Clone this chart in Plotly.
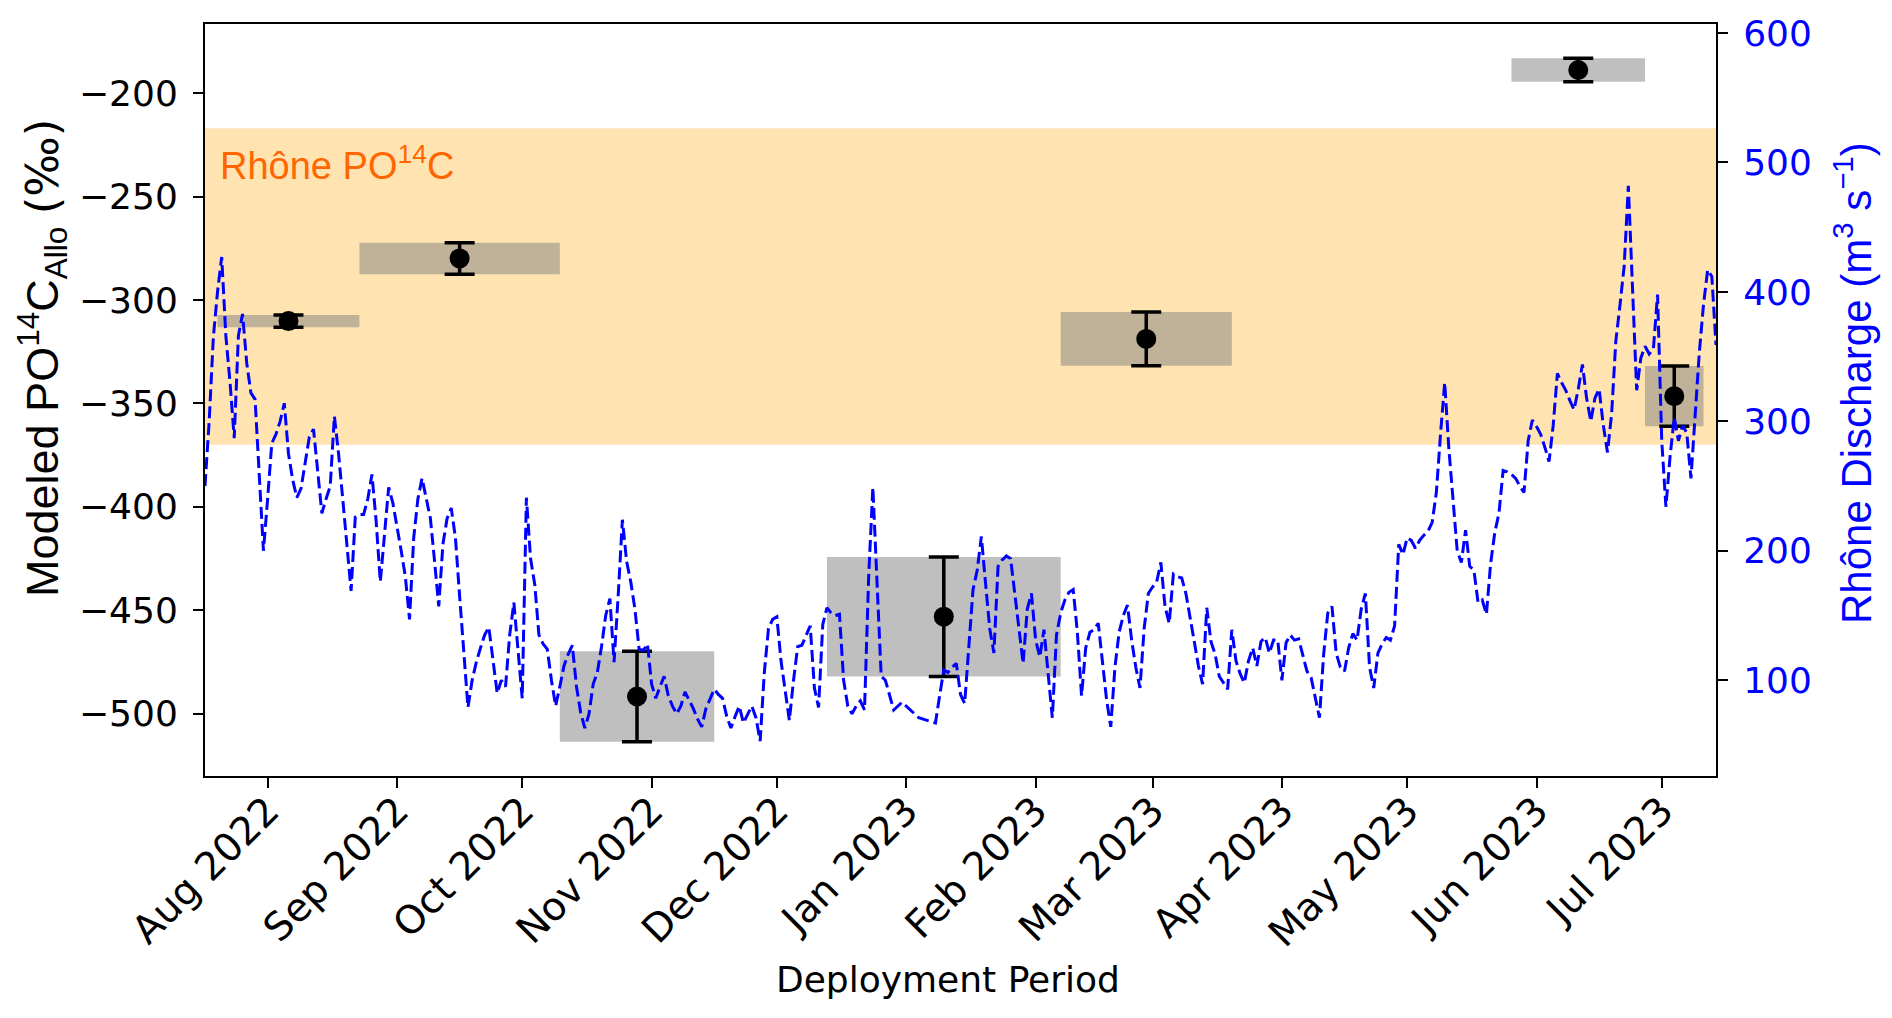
import pandas as pd
import plotly.graph_objects as go

# ---------------- data ----------------
REF_DATE = "2022-08-01"  # discharge_day offsets are days after this date

discharge_day = [
    -15, -14, -13, -12, -11, -10, -9, -8, -7, -6, -5, -4, -3, -2, -1, 0, 1, 2, 3, 4,
    5, 6, 7, 8, 9, 10, 11, 12, 13, 14, 15, 16, 17, 18, 19, 20, 21, 22, 23, 24,
    25, 26, 27, 28, 29, 30, 31, 32, 33, 34, 35, 36, 37, 38, 39, 40, 41, 42, 43, 44,
    45, 46, 47, 48, 49, 50, 51, 52, 53, 54, 55, 56, 57, 58, 59, 60, 61, 62, 63, 64,
    65, 66, 67, 68, 69, 70, 71, 72, 73, 74, 75, 76, 77, 78, 79, 80, 81, 82, 83, 84,
    85, 86, 87, 88, 89, 90, 91, 92, 93, 94, 95, 96, 97, 98, 99, 100, 101, 102, 103, 104,
    105, 106, 107, 108, 109, 110, 111, 112, 113, 114, 115, 116, 117, 118, 119, 120, 121, 122, 123, 124,
    125, 126, 127, 128, 129, 130, 131, 132, 133, 134, 135, 136, 137, 138, 139, 140, 141, 142, 143, 144,
    145, 146, 147, 148, 149, 150, 152, 154, 156, 158, 160, 161, 162, 163, 164, 165, 166, 167, 168,
    169, 170, 171, 172, 173, 174, 175, 176, 177, 178, 179, 180, 181, 182, 183, 184, 185, 186, 187, 188,
    189, 190, 191, 192, 193, 194, 195, 196, 197, 198, 199, 200, 201, 202, 203, 204, 205, 206, 207, 208,
    209, 210, 211, 212, 213, 214, 215, 216, 217, 218, 219, 220, 221, 222, 223, 224, 225, 226, 227, 228,
    229, 230, 231, 232, 233, 234, 235, 236, 237, 238, 239, 240, 241, 242, 243, 244, 245, 246, 247, 248,
    249, 250, 251, 252, 253, 254, 255, 256, 257, 258, 259, 260, 261, 262, 263, 264, 265, 266, 267, 268,
    269, 270, 271, 272, 273, 274, 275, 276, 277, 278, 279, 280, 281, 282, 283, 284, 285, 286, 287, 288,
    289, 290, 291, 292, 293, 294, 295, 296, 297, 298, 299, 300, 301, 302, 303, 304, 305, 306, 307, 308,
    309, 310, 311, 312, 313, 314, 315, 316, 317, 318, 319, 320, 321, 322, 323, 324, 325, 326, 327, 328,
    329, 330, 331, 332, 333, 334, 335, 336, 337, 338, 339, 340, 341, 342, 343, 344, 345, 346, 347,
]

discharge_value = [
    250, 300, 365, 400, 427, 366, 330, 287, 366, 383, 345, 322, 317, 255, 200, 240, 283, 290, 300, 314,
    275, 255, 241, 248, 270, 288, 294, 260, 229, 240, 250, 304, 275, 240, 205, 169, 226, 228, 228, 240,
    259, 223, 176, 215, 249, 237, 220, 200, 180, 147, 210, 240, 256, 240, 225, 192, 157, 205, 225, 233,
    210, 165, 125, 79, 100, 114, 125, 135, 141, 114, 90, 100, 95, 135, 160, 123, 86, 241, 194, 174,
    135, 128, 124, 100, 80, 95, 111, 120, 127, 95, 75, 63, 74, 97, 106, 126, 150, 163, 114, 166,
    224, 192, 176, 155, 124, 123, 128, 97, 86, 95, 103, 88, 80, 74, 80, 91, 85, 78, 70, 64,
    78, 86, 93, 89, 86, 72, 63, 72, 80, 67, 74, 80, 71, 53, 106, 140, 147, 149, 115, 90,
    69, 100, 126, 127, 135, 142, 94, 79, 143, 156, 152, 150, 151, 100, 80, 74, 80, 84, 77, 180,
    249, 180, 103, 100, 88, 77, 83, 77, 71, 69, 67, 88, 108, 106, 110, 113, 89, 82, 130,
    170, 185, 211, 175, 140, 121, 188, 193, 196, 194, 165, 140, 113, 155, 167, 131, 118, 139, 105, 71,
    135, 152, 162, 168, 170, 137, 88, 125, 137, 139, 144, 116, 85, 64, 110, 137, 150, 158, 131, 110,
    94, 140, 167, 172, 176, 191, 157, 144, 182, 180, 179, 167, 150, 130, 111, 97, 156, 130, 120, 103,
    98, 93, 139, 115, 105, 98, 115, 125, 111, 130, 133, 121, 131, 131, 100, 129, 135, 131, 132, 120,
    107, 102, 85, 71, 120, 152, 157, 121, 110, 107, 125, 136, 131, 155, 167, 110, 94, 121, 128, 133,
    131, 142, 205, 197, 210, 208, 202, 208, 212, 215, 222, 245, 290, 330, 279, 240, 200, 191, 216, 188,
    185, 160, 162, 151, 190, 214, 229, 262, 261, 259, 256, 250, 245, 285, 301, 296, 290, 280, 269, 297,
    337, 330, 324, 316, 309, 325, 344, 318, 300, 318, 325, 297, 276, 306, 362, 390, 420, 482, 400, 324,
    349, 358, 352, 356, 398, 285, 234, 273, 303, 285, 297, 291, 256, 303, 353, 390, 417, 412, 359,
]

deploy_start = ["2022-07-20", "2022-08-23", "2022-10-10", "2022-12-13",
                "2023-02-07", "2023-05-26", "2023-06-27"]
deploy_end = ["2022-08-23", "2022-10-10", "2022-11-16", "2023-02-07",
              "2023-03-20", "2023-06-27", "2023-07-11"]
po14c_allo = [-310.2, -279.9, -491.7, -453.1, -318.8, -188.8, -346.5]
po14c_err = [3.0, 7.6, 21.9, 28.9, 13.0, 5.7, 14.6]

rhone_po14c_range = [-370, -217]
discharge_axis_range = [26, 607]

# ---------------- derived ----------------
dis_dates = pd.Timestamp(REF_DATE) + pd.to_timedelta(discharge_day, unit="D")
starts = pd.to_datetime(deploy_start)
ends = pd.to_datetime(deploy_end)
mids = starts + (ends - starts) / 2

lows = [v - e for v, e in zip(po14c_allo, po14c_err)]
highs = [v + e for v, e in zip(po14c_allo, po14c_err)]
pad = 0.05 * (max(highs) - min(lows))
y1_range = [min(lows) - pad, max(highs) + pad]

# page geometry (page has an 8px body margin)
OFF = 8
W, H = 1892 - 2 * OFF, 1018 - 2 * OFF
PL, PR, PT, PB = 205, 1716, 24, 776          # plot area in page pixels
PW, PH = PR - PL, PB - PT
ML, MT = PL - OFF, PT - OFF
MR, MB = W - ML - PW, H - MT - PH

def px_x(px):
    return (px - PL) / PW

def px_y(py):
    return (PB - py) / PH

TICK_FONT = dict(family="DejaVu Sans", size=36, color="black")
LABEL_FAMILY = "Liberation Sans, Arial, sans-serif"

fig = go.Figure()

shapes = [dict(type="rect", xref="paper", yref="y", x0=0, x1=1,
               y0=rhone_po14c_range[0], y1=rhone_po14c_range[1],
               fillcolor="rgba(255,165,0,0.3)", line=dict(width=0), layer="below")]
for s, e, lo, hi in zip(starts, ends, lows, highs):
    shapes.append(dict(type="rect", xref="x", yref="y", x0=s, x1=e, y0=lo, y1=hi,
                       fillcolor="rgba(128,128,128,0.5)", line=dict(width=0), layer="below"))

fig.add_trace(go.Scatter(
    x=mids, y=po14c_allo, mode="markers",
    marker=dict(color="black", size=20),
    error_y=dict(type="data", array=po14c_err, color="black", thickness=3.5, width=15),
    showlegend=False, yaxis="y",
))

fig.add_trace(go.Scatter(
    x=dis_dates, y=discharge_value, mode="lines",
    line=dict(color="#0000FF", width=3, dash="12px,5px"),
    showlegend=False, yaxis="y2",
))

fig.update_layout(
    width=W, height=H,
    margin=dict(l=ML, r=MR, t=MT, b=MB, autoexpand=False),
    paper_bgcolor="white", plot_bgcolor="white",
    shapes=shapes,
    xaxis=dict(
        type="date", range=[dis_dates.min(), dis_dates.max()],
        tick0="2022-08-01", dtick="M1", tickformat="%b %Y", tickangle=-45,
        ticks="outside", ticklen=10, tickwidth=2, tickcolor="black",
        showline=True, linecolor="black", linewidth=2, mirror=True,
        showgrid=False, zeroline=False,
        tickfont=dict(family="DejaVu Sans", size=39, color="black"),
        automargin=False, ticklabelstandoff=-16,
    ),
    yaxis=dict(
        range=y1_range, dtick=50, tick0=0,
        ticks="outside", ticklen=10, tickwidth=2, tickcolor="black",
        showline=True, linecolor="black", linewidth=2,
        showgrid=False, zeroline=False, tickfont=TICK_FONT, automargin=False,
        ticklabelstandoff=8,
    ),
    yaxis2=dict(
        overlaying="y", side="right", anchor="x",
        range=discharge_axis_range, dtick=100, tick0=0,
        ticks="outside", ticklen=10, tickwidth=2, tickcolor="black",
        showline=True, linecolor="black", linewidth=2,
        showgrid=False, zeroline=False,
        tickfont=dict(family="DejaVu Sans", size=36, color="#0000FF"),
        automargin=False, ticklabelstandoff=8,
    ),
    annotations=[
        dict(text="Deployment Period", xref="paper", yref="paper",
             x=px_x(948), y=px_y(980), xanchor="center", yanchor="middle",
             showarrow=False, font=dict(family="DejaVu Sans", size=36, color="black")),
        dict(text="Modeled PO<sup>14</sup>C<sub>Allo</sub> "
                  "<span style='font-family:DejaVu Sans'>(‰)</span>",
             xref="paper", yref="paper",
             x=px_x(42), y=px_y(358), xanchor="center", yanchor="middle", textangle=-90,
             showarrow=False, font=dict(family=LABEL_FAMILY, size=45, color="black")),
        dict(text="Rhône Discharge (m<sup>3</sup> s<sup>−1</sup>)", xref="paper", yref="paper",
             x=px_x(1853), y=px_y(383), xanchor="center", yanchor="middle", textangle=-90,
             showarrow=False, font=dict(family=LABEL_FAMILY, size=42, color="#0000FF")),
        dict(text="Rhône PO<sup>14</sup>C", xref="paper", yref="paper",
             x=px_x(218), y=px_y(163), xanchor="left", yanchor="middle",
             showarrow=False, font=dict(family=LABEL_FAMILY, size=38, color="#FF6600")),
    ],
)

fig.write_html("out.html")
